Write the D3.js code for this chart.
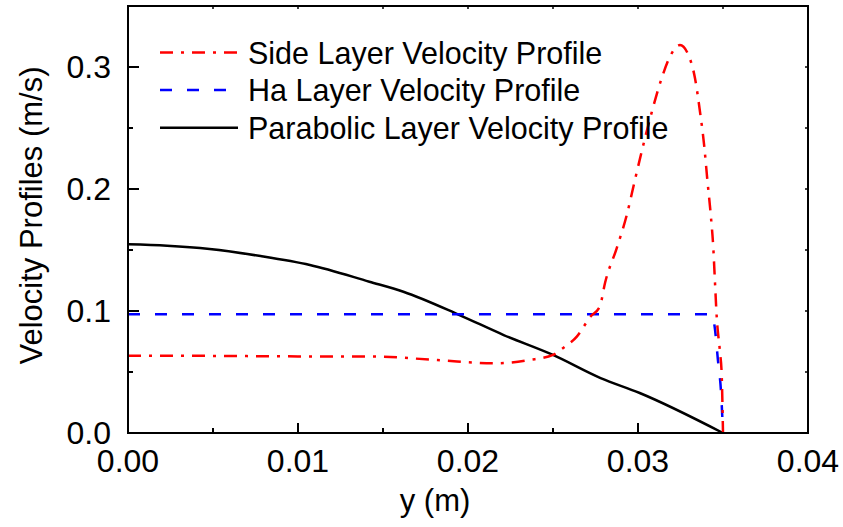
<!DOCTYPE html>
<html>
<head>
<meta charset="utf-8">
<script src="https://cdn.jsdelivr.net/npm/d3@7"></script>
<style>
  body { margin: 0; background: #fff; }
  text { font-family: "Liberation Sans", Arial, sans-serif; fill: #000; }
</style>
</head>
<body>
<svg id="chart" width="843" height="527"></svg>
<script>
// values
var sideY = [0, 0.005, 0.010, 0.0142, 0.0182, 0.0216, 0.0236, 0.0250, 0.0256, 0.0264, 0.0272, 0.02776, 0.02806, 0.02875, 0.02934, 0.02982, 0.03031, 0.03081, 0.03139, 0.03188, 0.03247, 0.03296, 0.03335, 0.03365, 0.0339, 0.03408, 0.03428, 0.03443, 0.03453, 0.03463, 0.03482, 0.03492, 0.035]
var sideV = [0.0634, 0.0632, 0.0628, 0.0628, 0.0598, 0.0571, 0.0598, 0.064, 0.0697, 0.079, 0.0953, 0.104, 0.123, 0.1516, 0.1787, 0.2074, 0.236, 0.263, 0.2907, 0.3085, 0.318, 0.310, 0.291, 0.263, 0.2347, 0.2074, 0.1787, 0.1516, 0.123, 0.0953, 0.0667, 0.049, 0]

var haY = [0, 0.0343, 0.0345, 0.0347, 0.0349, 0.035]
var haV = [0.0973, 0.0973, 0.088, 0.060, 0.030, 0]

var paraY = [0, 0.0023, 0.0048, 0.0078, 0.0107, 0.0142, 0.0162, 0.0195, 0.0221, 0.0250, 0.0278, 0.0301, 0.035]
var paraV = [0.1547, 0.1535, 0.1508, 0.145, 0.1377, 0.124, 0.1158, 0.0967, 0.0803, 0.064, 0.045, 0.0328, 0]

var xTicks = [0, 0.01, 0.02, 0.03, 0.04]
var yTicks = [0, 0.1, 0.2, 0.3]

var legendNames = ['Side Layer Velocity Profile', 'Ha Layer Velocity Profile', 'Parabolic Layer Velocity Profile']

var svg = d3.select('#chart')
var padding = {l: 128, r: 35, t: 6, b: 94}
var chartWidth = +svg.attr('width') - padding.l - padding.r
var chartHeight = +svg.attr('height') - padding.t - padding.b

var xScale = d3.scaleLinear().domain([0, 0.04]).range([0, chartWidth])
var yScale = d3.scaleLinear().domain([0, 0.35]).range([chartHeight, 0])

var g = svg.append('g')
  .attr('transform', 'translate(' + padding.l + ',' + padding.t + ')')

// minor ticks
var xMinor = d3.range(0, 0.0401, 0.005)
var yMinor = d3.range(0, 0.351, 0.05)

// bottom / left ticks point inward
g.selectAll('.xt').data(xMinor).enter().append('line')
  .attr('x1', d => xScale(d)).attr('x2', d => xScale(d))
  .attr('y1', chartHeight)
  .attr('y2', (d, i) => chartHeight - (i % 2 == 0 ? 10 : 5))
  .attr('stroke', '#000').attr('stroke-width', 2)

g.selectAll('.yt').data(yMinor).enter().append('line')
  .attr('y1', d => yScale(d)).attr('y2', d => yScale(d))
  .attr('x1', 0)
  .attr('x2', (d, i) => (i % 2 == 0 ? 11 : 5))
  .attr('stroke', '#000').attr('stroke-width', 2)

// mirrored small ticks on top and right
g.selectAll('.xt2').data(xMinor).enter().append('line')
  .attr('x1', d => xScale(d)).attr('x2', d => xScale(d))
  .attr('y1', 0).attr('y2', 3)
  .attr('stroke', '#000').attr('stroke-width', 1.5)

g.selectAll('.yt2').data(yMinor).enter().append('line')
  .attr('y1', d => yScale(d)).attr('y2', d => yScale(d))
  .attr('x1', chartWidth).attr('x2', chartWidth - 3)
  .attr('stroke', '#000').attr('stroke-width', 1.5)

// tick labels
g.selectAll('.xl').data(xTicks).enter().append('text')
  .attr('x', d => xScale(d))
  .attr('y', chartHeight + 39)
  .attr('text-anchor', 'middle')
  .style('font-size', '32px')
  .text(d => d3.format('.2f')(d))

g.selectAll('.yl').data(yTicks).enter().append('text')
  .attr('x', -17)
  .attr('y', d => yScale(d) + 11)
  .attr('text-anchor', 'end')
  .style('font-size', '32px')
  .text(d => d3.format('.1f')(d))

// axis titles
g.append('text')
  .attr('x', chartWidth / 2 - 33)
  .attr('y', chartHeight + 78)
  .attr('text-anchor', 'middle')
  .style('font-size', '31px')
  .text('y (m)')

g.append('text')
  .attr('transform', 'translate(' + (-86) + ',' + (chartHeight / 2 - 4) + ') rotate(-90)')
  .attr('text-anchor', 'middle')
  .style('font-size', '31px')
  .text('Velocity Profiles (m/s)')

// lines
var line = d3.line()
  .x(d => xScale(d[0]))
  .y(d => yScale(d[1]))
  .curve(d3.curveMonotoneX)

var styles = [
  {color: '#ff0000', dash: '13,8,3,8'},
  {color: '#0000ff', dash: '12,15'},
  {color: '#000000', dash: null}
]

var series = [
  d3.zip(sideY, sideV),
  d3.zip(haY, haV),
  d3.zip(paraY, paraV)
]

// draw black first, then blue, then red on top
;[2, 1, 0].forEach(function (i) {
  g.append('path')
    .datum(series[i])
    .attr('d', line)
    .attr('fill', 'none')
    .attr('stroke', styles[i].color)
    .attr('stroke-width', 2.5)
    .attr('stroke-dasharray', styles[i].dash)
})

// legend
var leg = g.selectAll('.leg').data(legendNames).enter().append('g')
  .attr('transform', (d, i) => 'translate(32,' + (46.5 + i * 37.6) + ')')

leg.append('line')
  .attr('x1', 0).attr('x2', 78)
  .attr('stroke', (d, i) => styles[i].color)
  .attr('stroke-width', 2.5)
  .attr('stroke-dasharray', (d, i) => styles[i].dash)

leg.append('text')
  .attr('x', 88)
  .attr('y', 11)
  .style('font-size', '30.5px')
  .text(d => d)

// frame
g.append('rect')
  .attr('width', chartWidth).attr('height', chartHeight)
  .attr('fill', 'none')
  .attr('stroke', '#000').attr('stroke-width', 2)
</script>
</body>
</html>
